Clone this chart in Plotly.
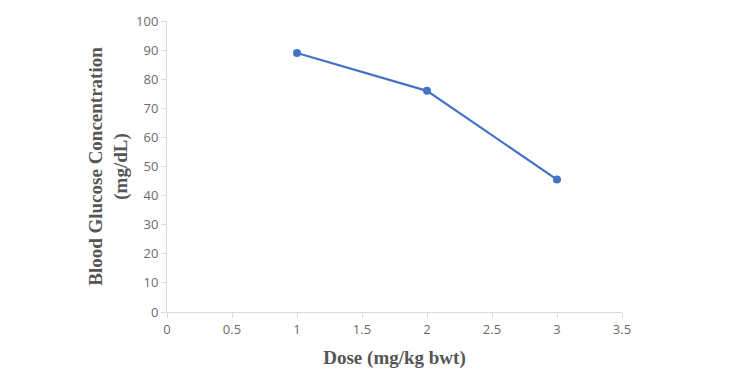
import plotly.graph_objects as go

dose = [1, 2, 3]
glucose = [89, 76, 45.5]
x_ticks = [0, 0.5, 1, 1.5, 2, 2.5, 3, 3.5]
y_ticks = [0, 10, 20, 30, 40, 50, 60, 70, 80, 90, 100]

fig = go.Figure()
fig.add_trace(go.Scatter(
    x=dose, y=glucose, mode="lines+markers",
    line=dict(color="#4472C4", width=2.2),
    marker=dict(color="#4472C4", size=8),
    showlegend=False,
))

tick_font = dict(family="Open Sans, Liberation Sans, sans-serif", size=13, color="#6b6b6b")
title_font = dict(family="Liberation Serif, Times New Roman, serif", size=19, color="#555555")

fig.update_layout(
    width=750, height=375,
    margin=dict(l=159, r=136, t=13, b=71),
    paper_bgcolor="white", plot_bgcolor="white",
    xaxis=dict(
        range=[0, 3.5], tickvals=x_ticks, ticktext=[str(v) for v in x_ticks],
        showgrid=False, zeroline=False, showline=True, linecolor="#D9D9D9", linewidth=1,
        ticks="outside", ticklen=5, tickcolor="#D9D9D9", tickfont=tick_font,
        automargin=False,
        title=dict(text="<b>Dose (mg/kg bwt)</b>", font=title_font, standoff=14),
    ),
    yaxis=dict(
        range=[0, 100], tickvals=y_ticks,
        showgrid=False, zeroline=False, showline=True, linecolor="#D9D9D9", linewidth=1,
        ticks="outside", ticklen=5, tickcolor="#D9D9D9", tickfont=tick_font,
        automargin=False,
        title=dict(text="<b>Blood Glucose Concentration<br>(mg/dL)</b>", font=title_font, standoff=3),
    ),
)

fig.write_html("out.html")
